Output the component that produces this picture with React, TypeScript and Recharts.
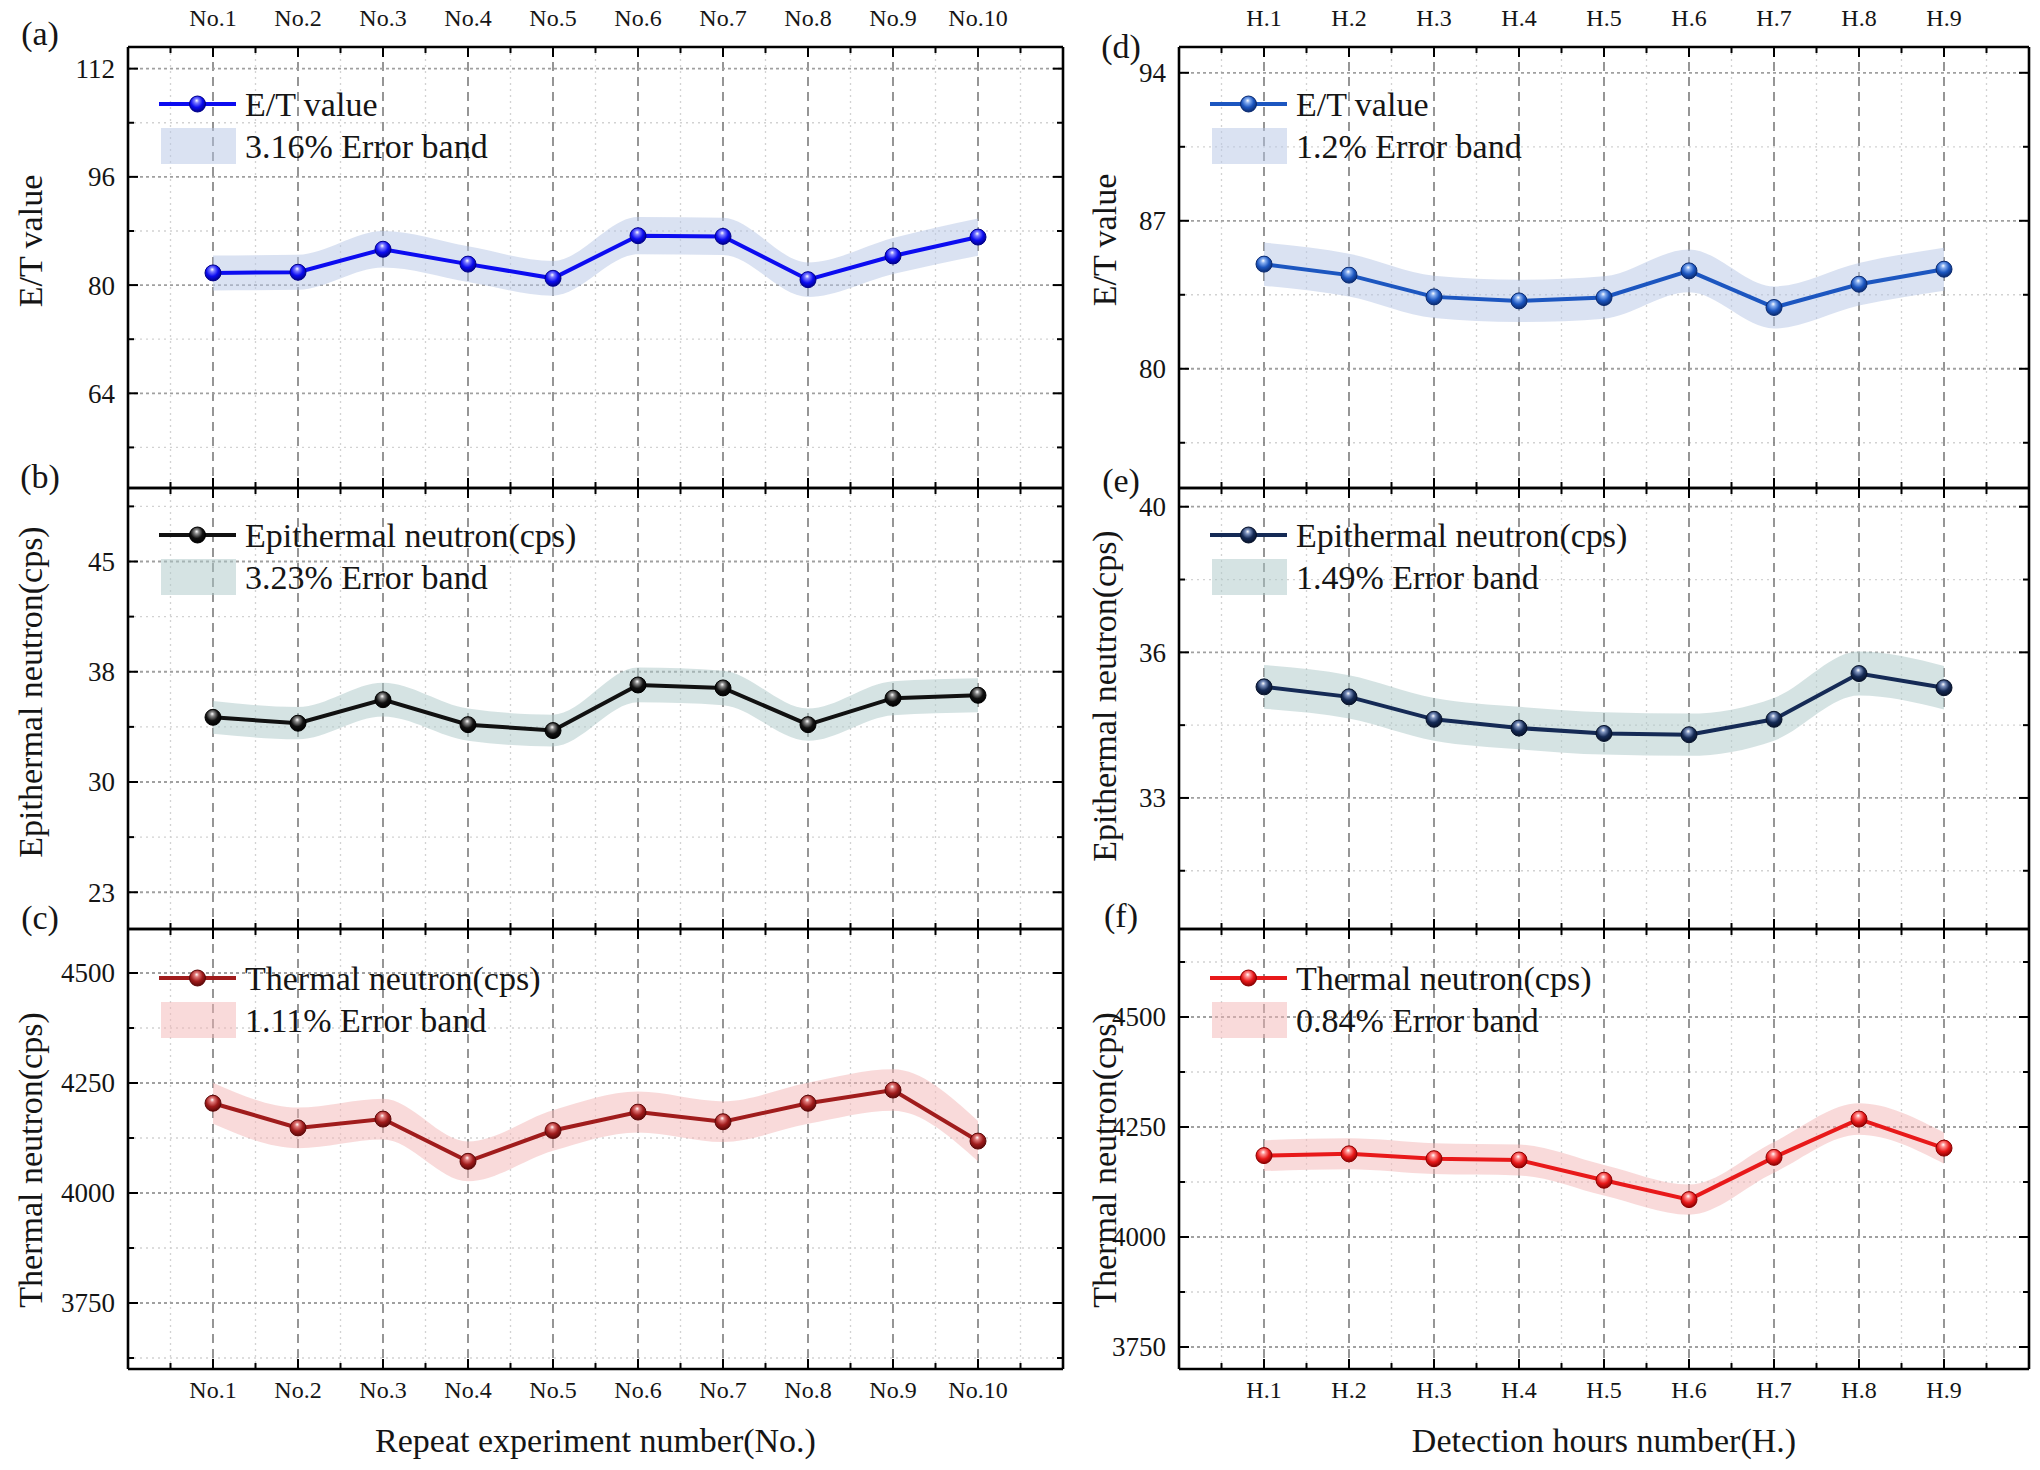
import React from "react";
import { Area, CartesianGrid, ComposedChart, Legend, Line, XAxis, YAxis } from "recharts";

// categories
const repeatLabels = ["No.1", "No.2", "No.3", "No.4", "No.5", "No.6", "No.7", "No.8", "No.9", "No.10"];
const hourLabels = ["H.1", "H.2", "H.3", "H.4", "H.5", "H.6", "H.7", "H.8", "H.9"];

// values
const etRepeat = [81.8, 81.9, 85.3, 83.1, 81.0, 87.3, 87.2, 80.8, 84.3, 87.1];
const epiRepeat = [34.4, 34.0, 35.6, 33.9, 33.5, 36.6, 36.4, 33.9, 35.7, 35.9];
const thermalRepeat = [4204, 4148, 4168, 4072, 4142, 4184, 4162, 4204, 4234, 4118];
const etHours = [84.95, 84.43, 83.4, 83.21, 83.37, 84.63, 82.9, 84.0, 84.71];
const epiHours = [35.17, 34.93, 34.39, 34.18, 34.05, 34.02, 34.39, 35.49, 35.15];
const thermalHours = [4185, 4189, 4178, 4175, 4129, 4085, 4181, 4268, 4202];

// error band widths (percent), from the legends
const etRepeatErr = 3.16;
const epiRepeatErr = 3.23;
const thermalRepeatErr = 1.11;
const etHoursErr = 1.2;
const epiHoursErr = 1.49;
const thermalHoursErr = 0.84;

// y ticks
const etRepeatTicks = [64, 80, 96, 112];
const etRepeatMinor = [56, 72, 88, 104];
const epiRepeatTicks = [22.5, 30, 37.5, 45];
const epiRepeatMinor = [26.25, 33.75, 41.25, 48.75];
const thermalRepeatTicks = [3750, 4000, 4250, 4500];
const thermalRepeatMinor = [3625, 3875, 4125, 4375];
const etHoursTicks = [80, 87, 94];
const etHoursMinor = [76.5, 83.5, 90.5];
const epiHoursTicks = [32.5, 36, 39.5];
const epiHoursMinor = [30.75, 34.25, 37.75];
const thermalHoursTicks = [3750, 4000, 4250, 4500];
const thermalHoursMinor = [3875, 4125, 4375, 4625];

const FONT = "'Liberation Serif', 'Times New Roman', serif";
const INK = "#151515";

const COLS = [
  { left: 128, width: 935, xTitle: "Repeat experiment number(No.)", titleX: 30, tagX: 40 },
  { left: 1179, width: 850, xTitle: "Detection hours number(H.)", titleX: 1104, tagX: 1121 }
];
const ROWS = [
  { top: 47, height: 441 },
  { top: 488, height: 441 },
  { top: 929, height: 440 }
];
const ML = 80;
const MR = 10;
const MT = 45;
const MB = 45;

type PanelSpec = {
  key: string;
  tag: string;
  tagY: number;
  col: number;
  row: number;
  labels: string[];
  values: number[];
  err: number;
  domain: [number, number];
  majors: number[];
  minors: number[];
  seriesName: string;
  title: string;
  titleY: number;
  legendDy: number;
  color: string;
  dark: string;
  light: string;
  band: string;
};

const panels: PanelSpec[] = [
  {
    key: "a", tag: "(a)", tagY: 33, col: 0, row: 0, labels: repeatLabels, values: etRepeat, err: etRepeatErr,
    domain: [50, 115.2], majors: etRepeatTicks, minors: etRepeatMinor, seriesName: "E/T value",
    title: "E/T value", titleY: 241, legendDy: 57, color: "#0c0cf0", dark: "#00008a", light: "#7d7dff", band: "#b5c6e6"
  },
  {
    key: "b", tag: "(b)", tagY: 476, col: 0, row: 1, labels: repeatLabels, values: epiRepeat, err: epiRepeatErr,
    domain: [20, 50], majors: epiRepeatTicks, minors: epiRepeatMinor, seriesName: "Epithermal neutron(cps)",
    title: "Epithermal neutron(cps)", titleY: 692, legendDy: 47, color: "#111111", dark: "#000000", light: "#8a8a8a", band: "#abc7c7"
  },
  {
    key: "c", tag: "(c)", tagY: 917, col: 0, row: 2, labels: repeatLabels, values: thermalRepeat, err: thermalRepeatErr,
    domain: [3600, 4600], majors: thermalRepeatTicks, minors: thermalRepeatMinor, seriesName: "Thermal neutron(cps)",
    title: "Thermal neutron(cps)", titleY: 1160, legendDy: 49, color: "#a01c1c", dark: "#5e0808", light: "#e07a7a", band: "#f3b5b5"
  },
  {
    key: "d", tag: "(d)", tagY: 46, col: 1, row: 0, labels: hourLabels, values: etHours, err: etHoursErr,
    domain: [74.36, 95.22], majors: etHoursTicks, minors: etHoursMinor, seriesName: "E/T value",
    title: "E/T value", titleY: 240, legendDy: 57, color: "#1c56c0", dark: "#0a2a70", light: "#86aef0", band: "#b5c6e6"
  },
  {
    key: "e", tag: "(e)", tagY: 480, col: 1, row: 1, labels: hourLabels, values: epiHours, err: epiHoursErr,
    domain: [29.35, 39.95], majors: epiHoursTicks, minors: epiHoursMinor, seriesName: "Epithermal neutron(cps)",
    title: "Epithermal neutron(cps)", titleY: 696, legendDy: 47, color: "#152a55", dark: "#07122a", light: "#7f94c0", band: "#abc7c7"
  },
  {
    key: "f", tag: "(f)", tagY: 915, col: 1, row: 2, labels: hourLabels, values: thermalHours, err: thermalHoursErr,
    domain: [3700, 4700], majors: thermalHoursTicks, minors: thermalHoursMinor, seriesName: "Thermal neutron(cps)",
    title: "Thermal neutron(cps)", titleY: 1160, legendDy: 49, color: "#e8191a", dark: "#8c0000", light: "#ff9090", band: "#f3b5b5"
  }
];

const MAJOR_LEN = 10;
const MINOR_LEN = 6;

function yTick(side: "left" | "right", majors: number[], showLabel: boolean) {
  return (p: any) => {
    const v = p.payload.value;
    const major = majors.includes(v);
    const len = major ? MAJOR_LEN : MINOR_LEN;
    const dir = side === "left" ? 1 : -1;
    return (
      <g>
        <line x1={p.x} x2={p.x + dir * len} y1={p.y} y2={p.y} stroke="#000" strokeWidth={2} />
        {showLabel && major ? (
          <text x={p.x - 13} y={p.y} dy="0.35em" textAnchor="end" fontSize={27} fontFamily={FONT} fill={INK}>
            {Math.round(v)}
          </text>
        ) : null}
      </g>
    );
  };
}

function xTick(side: "top" | "bottom", labels: string[], showLabel: boolean) {
  return (p: any) => {
    const v = p.payload.value;
    const major = Number.isInteger(v);
    const len = major ? MAJOR_LEN : MINOR_LEN;
    const dir = side === "bottom" ? -1 : 1;
    return (
      <g>
        <line x1={p.x} x2={p.x} y1={p.y} y2={p.y + dir * len} stroke="#000" strokeWidth={2} />
        {showLabel && major ? (
          <text x={p.x} y={side === "bottom" ? p.y + 29 : p.y - 21} textAnchor="middle" fontSize={24} fontFamily={FONT} fill={INK}>
            {labels[v - 1]}
          </text>
        ) : null}
      </g>
    );
  };
}

function Panel({ s }: { s: PanelSpec }) {
  const col = COLS[s.col];
  const row = ROWS[s.row];
  const n = s.labels.length;
  const data = s.labels.map((label, i) => ({
    x: i + 1,
    label,
    v: s.values[i],
    band: [s.values[i] * (1 - s.err / 100), s.values[i] * (1 + s.err / 100)]
  }));
  const xMajors = s.labels.map((_, i) => i + 1);
  const xMinors = [0, ...xMajors].map((v) => v + 0.5);
  const xTicks = [...xMinors, ...xMajors].sort((a, b) => a - b);
  const yTicks = [...s.majors, ...s.minors].sort((a, b) => a - b);
  const width = col.width + ML + MR;
  const height = row.height + MT + MB;

  const legend = () => (
    <svg width={560} height={90} style={{ overflow: "visible", display: "block" }}>
      <line x1={0} x2={77} y1={17} y2={17} stroke={s.color} strokeWidth={4} />
      <circle cx={38.5} cy={17} r={8} fill={`url(#sph-${s.key})`} stroke={s.dark} strokeWidth={1} />
      <text x={86} y={17} dy="0.34em" fontSize={34} fontFamily={FONT} fill={INK}>
        {s.seriesName}
      </text>
      <rect x={2} y={41} width={75} height={36} fill={s.band} fillOpacity={0.5} />
      <text x={86} y={59} dy="0.34em" fontSize={34} fontFamily={FONT} fill={INK}>
        {`${s.err}% Error band`}
      </text>
    </svg>
  );

  const frame = { stroke: "#000", strokeWidth: 2.6 };

  return (
    <div style={{ position: "absolute", left: col.left - ML, top: row.top - MT, width, height }}>
      <ComposedChart width={width} height={height} data={data} margin={{ top: MT, right: MR, bottom: MB, left: ML }}>
        <CartesianGrid horizontal={false} verticalValues={xMinors} stroke="#d2d2d2" strokeDasharray="2 4" strokeWidth={1.3} />
        <CartesianGrid vertical={false} horizontalValues={s.minors} stroke="#d2d2d2" strokeDasharray="2 4" strokeWidth={1.3} />
        <CartesianGrid horizontal={false} verticalValues={xMajors} stroke="#7c7c7c" strokeDasharray="9 6" strokeWidth={1.6} />
        <CartesianGrid vertical={false} horizontalValues={s.majors} stroke="#a0a0a0" strokeDasharray="3 3" strokeWidth={1.8} />
        <XAxis
          dataKey="x"
          type="number"
          orientation="bottom"
          mirror
          domain={[0, n + 1]}
          allowDataOverflow
          ticks={xTicks}
          interval={0}
          tickSize={0}
          tickMargin={0}
          tickLine={false}
          axisLine={frame}
          tick={xTick("bottom", s.labels, s.row === 2)}
        />
        <XAxis
          xAxisId="top"
          dataKey="x"
          type="number"
          orientation="top"
          mirror
          domain={[0, n + 1]}
          allowDataOverflow
          ticks={xTicks}
          interval={0}
          tickSize={0}
          tickMargin={0}
          tickLine={false}
          axisLine={frame}
          tick={xTick("top", s.labels, s.row === 0)}
        />
        <YAxis
          type="number"
          orientation="left"
          mirror
          domain={s.domain}
          allowDataOverflow
          ticks={yTicks}
          interval={0}
          tickSize={0}
          tickMargin={0}
          tickLine={false}
          axisLine={frame}
          tick={yTick("left", s.majors, true)}
        />
        <YAxis
          yAxisId="right"
          type="number"
          orientation="right"
          mirror
          domain={s.domain}
          allowDataOverflow
          ticks={yTicks}
          interval={0}
          tickSize={0}
          tickMargin={0}
          tickLine={false}
          axisLine={frame}
          tick={yTick("right", s.majors, false)}
        />
        <Area
          xAxisId="top"
          yAxisId="right"
          type="monotone"
          dataKey="band"
          stroke="none"
          fill={s.band}
          fillOpacity={0.5}
          dot={false}
          activeDot={false}
          isAnimationActive={false}
        />
        <Line
          type="linear"
          dataKey="v"
          name={s.seriesName}
          stroke={s.color}
          strokeWidth={4}
          activeDot={false}
          isAnimationActive={false}
          dot={(p: any) => (
            <circle key={`dot-${s.key}-${p.index}`} cx={p.cx} cy={p.cy} r={8} fill={`url(#sph-${s.key})`} stroke={s.dark} strokeWidth={1} />
          )}
        />
        <Legend
          layout="vertical"
          align="center"
          verticalAlign="middle"
          content={legend}
          wrapperStyle={{ left: ML + 31, top: MT + s.legendDy - 17, width: 560, height: 90 }}
        />
      </ComposedChart>
    </div>
  );
}

export default function App() {
  return (
    <div style={{ position: "absolute", left: 0, top: 0, width: 2040, height: 1470, background: "#fff", overflow: "hidden" }}>
      {panels.map((s) => (
        <Panel key={s.key} s={s} />
      ))}
      <svg width={2040} height={1470} style={{ position: "absolute", left: 0, top: 0, pointerEvents: "none" }}>
        <defs>
          {panels.map((s) => (
            <radialGradient key={s.key} id={`sph-${s.key}`} cx="45%" cy="38%" r="62%" fx="45%" fy="28%">
              <stop offset="0%" stopColor="#ffffff" />
              <stop offset="22%" stopColor={s.light} />
              <stop offset="60%" stopColor={s.color} />
              <stop offset="100%" stopColor={s.dark} />
            </radialGradient>
          ))}
        </defs>
        {panels.map((s) => {
          const col = COLS[s.col];
          return (
            <g key={s.key} fontFamily={FONT} fill={INK}>
              <text x={col.tagX} y={s.tagY} dy="0.35em" textAnchor="middle" fontSize={34}>
                {s.tag}
              </text>
              <text
                x={col.titleX}
                y={s.titleY}
                textAnchor="middle"
                dominantBaseline="central"
                fontSize={34}
                transform={`rotate(-90 ${col.titleX} ${s.titleY})`}
              >
                {s.title}
              </text>
            </g>
          );
        })}
        {COLS.map((c) => (
          <text key={c.xTitle} x={c.left + c.width / 2} y={1452} textAnchor="middle" fontSize={34} fontFamily={FONT} fill={INK}>
            {c.xTitle}
          </text>
        ))}
      </svg>
    </div>
  );
}
